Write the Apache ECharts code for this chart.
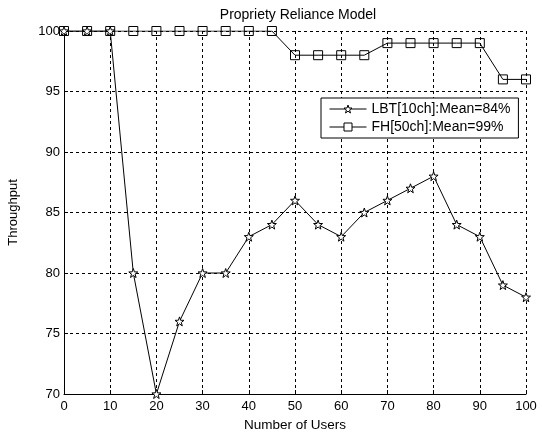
<!DOCTYPE html>
<html>
<head>
<meta charset="utf-8">
<script src="https://cdn.jsdelivr.net/npm/echarts@6/dist/echarts.min.js"></script>
<style>
html,body{margin:0;padding:0;background:#fff;}
#chart{width:542px;height:434px;}
</style>
</head>
<body>
<div id="chart"></div>
<script>
var users=[0,5,10,15,20,25,30,35,40,45,50,55,60,65,70,75,80,85,90,95,100];
var lbt=[100,100,100,80,70,76,80,80,83,84,86,84,83,85,86,87,88,84,83,79,78];
var fh=[100,100,100,100,100,100,100,100,100,100,98,98,98,98,99,99,99,99,99,96,96];
var xTicks=[0,100,10];
var yTicks=[70,100,5];

// 五角星标记
var star='path://M0,-10L2.35,-3.24L9.51,-3.09L3.8,1.24L5.88,8.09L0,4L-5.88,8.09L-3.8,1.24L-9.51,-3.09L-2.35,-3.24Z';
var font='Liberation Sans';

function pairs(ys){
    return users.map(function(x,i){return [x,ys[i]];});
}

var chart=echarts.init(document.getElementById('chart'));
chart.setOption({
    animation:false,
    title:{
        text:'Propriety Reliance Model',
        left:293,
        top:3,
        textAlign:'center',
        textStyle:{fontFamily:font,fontSize:14,fontWeight:'normal',color:'#000'}
    },
    grid:{left:64,right:16,top:31,bottom:40,outerBoundsMode:'none',containLabel:false},
    legend:{
        orient:'vertical',
        left:321,
        top:98,
        padding:[4,8,4,8],
        itemGap:4,
        itemWidth:37,
        itemHeight:10,
        borderColor:'#000',
        borderWidth:1,
        backgroundColor:'#fff',
        itemStyle:{color:'#fff',borderColor:'#000',borderWidth:1},
        lineStyle:{width:1,color:'#000'},
        textStyle:{fontFamily:font,fontSize:14,color:'#000'},
        data:['LBT[10ch]:Mean=84%','FH[50ch]:Mean=99%']
    },
    xAxis:{
        type:'value',
        min:xTicks[0],max:xTicks[1],interval:xTicks[2],
        name:'Number of Users',
        nameLocation:'middle',
        nameGap:24,
        nameTextStyle:{fontFamily:font,fontSize:13.5,color:'#000'},
        axisLine:{onZero:false,lineStyle:{color:'#000',width:1}},
        axisTick:{inside:true,length:4,lineStyle:{color:'#000'}},
        axisLabel:{fontFamily:font,fontSize:13,color:'#000',margin:6},
        splitLine:{show:true,lineStyle:{color:'#000',type:[3,3],width:1}}
    },
    yAxis:{
        type:'value',
        min:yTicks[0],max:yTicks[1],interval:yTicks[2],
        name:'Throughput',
        nameLocation:'middle',
        nameGap:44,
        nameTextStyle:{fontFamily:font,fontSize:13,color:'#000'},
        axisLine:{show:true,lineStyle:{color:'#000',width:1}},
        axisTick:{show:true,inside:true,length:4,lineStyle:{color:'#000'}},
        axisLabel:{fontFamily:font,fontSize:13,color:'#000',margin:4},
        splitLine:{show:true,lineStyle:{color:'#000',type:[3,3],width:1}}
    },
    series:[
        {
            name:'LBT[10ch]:Mean=84%',
            type:'line',
            data:pairs(lbt),
            color:'#000',
            symbol:star,
            symbolSize:9,
            showAllSymbol:true,
            lineStyle:{color:'#000',width:1},
            itemStyle:{color:'#fff',borderColor:'#000',borderWidth:1},
            z:3
        },
        {
            name:'FH[50ch]:Mean=99%',
            type:'line',
            data:pairs(fh),
            color:'#000',
            symbol:'rect',
            symbolSize:9,
            showAllSymbol:true,
            lineStyle:{color:'#000',width:1},
            itemStyle:{color:'rgba(255,255,255,0)',borderColor:'#000',borderWidth:1},
            z:2
        }
    ]
});
</script>
</body>
</html>
